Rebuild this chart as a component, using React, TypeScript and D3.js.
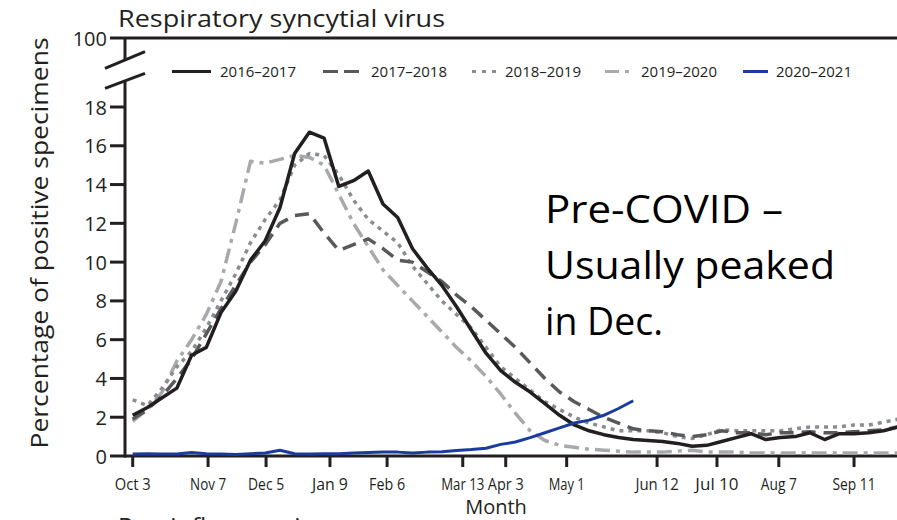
import React from "react";
import * as d3 from "d3";

// ---- data (weekly, week 0 = Oct 3) ----
const seasonNames = ["2016–2017", "2017–2018", "2018–2019", "2019–2020", "2020–2021"];

const s2016_2017 = [
  2.1, 2.5, 3.0, 3.5, 5.2, 5.6, 7.4, 8.5, 10.1, 11.1, 12.8, 15.6, 16.7, 16.4, 13.9, 14.2, 14.7, 13.0,
  12.3, 10.7, 9.7, 8.8, 7.7, 6.5, 5.3, 4.4, 3.8, 3.3, 2.7, 2.1, 1.6, 1.3, 1.1, 0.95, 0.85, 0.8, 0.75,
  0.65, 0.5, 0.55, 0.75, 0.95, 1.15, 0.85, 0.95, 1.0, 1.2, 0.85, 1.15, 1.15, 1.2, 1.3, 1.5,
];
const s2017_2018 = [
  1.9, 2.4, 3.1, 4.0, 5.0, 6.3, 7.6, 8.8, 10.0, 10.9, 12.0, 12.4, 12.5, 11.5, 10.6, 10.9, 11.2, 10.7,
  10.1, 10.0, 9.5, 9.0, 8.3, 7.7, 7.0, 6.3, 5.6, 4.8, 4.0, 3.3, 2.8, 2.4, 2.0, 1.7, 1.4, 1.3, 1.25,
  1.1, 1.0, 1.1, 1.3, 1.2, 1.2, 1.1, 1.2, 1.2, 1.25, 1.2, 1.2, 1.25, 1.3, 1.35, 1.5,
];
const s2018_2019 = [
  2.9, 2.6, 3.5, 4.6, 5.4, 6.6, 8.0, 9.4, 11.0, 12.2, 13.2, 15.0, 15.6, 15.5, 14.5, 13.2, 12.2, 11.6,
  11.0, 9.8, 8.9, 8.0, 7.3, 6.6, 5.6, 4.6, 4.0, 3.4, 2.8, 2.4, 2.0, 1.7, 1.5, 1.3, 1.3, 1.3, 1.2,
  1.0, 0.9, 1.1, 1.35, 1.3, 1.3, 1.3, 1.3, 1.4, 1.5, 1.5, 1.5, 1.6, 1.6, 1.75, 1.9,
];
const s2019_2020 = [
  1.8, 2.4, 3.3, 4.9, 6.0, 7.3, 9.0, 12.0, 15.2, 15.1, 15.3, 15.5, 15.4, 15.0, 13.5, 12.0, 10.8, 9.6,
  8.8, 8.0, 7.2, 6.4, 5.6, 4.9, 4.1, 3.2, 2.2, 1.3, 0.8, 0.55, 0.45, 0.35, 0.3, 0.25, 0.2, 0.2, 0.2,
  0.25, 0.3, 0.2, 0.2, 0.2, 0.15, 0.15, 0.15, 0.15, 0.15, 0.15, 0.15, 0.15, 0.15, 0.15, 0.15,
];
const s2020_2021 = [
  0.1, 0.12, 0.1, 0.1, 0.18, 0.12, 0.1, 0.08, 0.12, 0.15, 0.3, 0.12, 0.1, 0.12, 0.12, 0.15, 0.18, 0.2,
  0.2, 0.15, 0.2, 0.22, 0.28, 0.33, 0.4, 0.6, 0.72, 0.95, 1.2, 1.45, 1.7, 1.85, 2.1, 2.45, 2.85,
];

const xTickLabels = ["Oct 3", "Nov 7", "Dec 5", "Jan 9", "Feb 6", "Mar 13", "Apr 3", "May 1", "Jun 12", "Jul 10", "Aug 7", "Sep 11"];
const xTickWeeks = [0, 5.12, 9.06, 13.4, 17.28, 22.42, 25.34, 29.48, 35.62, 39.69, 43.89, 49.0];
const yTickValues = [0, 2, 4, 6, 8, 10, 12, 14, 16, 18];

const titleText = "Respiratory syncytial virus";
const yAxisTitle = "Percentage of positive specimens";
const xAxisTitle = "Month";
const noteLines = ["Pre-COVID –", "Usually peaked", "in Dec."];
const nextPanelTitle = "Parainfluenza viruses";

// ---- styles ----
const seriesStyles = [
  { color: "#231f20", dash: "none", legendDash: "none" },
  { color: "#58595b", dash: "14 8", legendDash: "15 6" },
  { color: "#8a8c8f", dash: "4 5", legendDash: "4 6" },
  { color: "#a7a9ac", dash: "15 6 4 6", legendDash: "14 6 4 6" },
  { color: "#1a3c9e", dash: "none", legendDash: "none" },
];
const allSeries = [s2016_2017, s2017_2018, s2018_2019, s2019_2020, s2020_2021];

const FONT = "'Open Sans', 'Noto Sans', sans-serif";

export default function App() {
  const W = 897;
  const H = 520;
  const x = d3.scaleLinear().domain([0, 52]).range([132.7, 898.2]);
  const y = d3.scaleLinear().domain([0, 18]).range([456, 107]);
  const line = d3
    .line<number>()
    .x((_, i) => x(i))
    .y((d) => y(d))
    .curve(d3.curveLinear);

  const axisX = 125;
  const topY = 38;

  const legendItems = [
    { x0: 172, x1: 211, tx: 220 },
    { x0: 323, x1: 362, tx: 371 },
    { x0: 472, x1: 496, tx: 505 },
    { x0: 605, x1: 632, tx: 641 },
    { x0: 743, x1: 768, tx: 776 },
  ];
  const legendY = 71.5;

  const drawOrder = [3, 2, 1, 0, 4];

  return (
    <svg
      width={W}
      height={H}
      style={{ position: "absolute", left: 0, top: 0, background: "#fff" }}
      fontFamily={FONT}
    >
      <rect x={0} y={0} width={W} height={H} fill="#fff" />
      {/* Title */}
      <text x={118} y={27} fontSize={24} fill="#231f20" textLength={327} lengthAdjust="spacingAndGlyphs">
        {titleText}
      </text>
      {/* Top 100 line */}
      <line x1={110} x2={W} y1={topY} y2={topY} stroke="#231f20" strokeWidth={3} />
      <text x={107} y={topY} fontSize={20} textAnchor="end" dominantBaseline="central" fill="#231f20">
        100
      </text>
      {/* Y axis with break */}
      <line x1={axisX} x2={axisX} y1={topY} y2={60} stroke="#231f20" strokeWidth={3} />
      <line x1={axisX} x2={axisX} y1={81} y2={457.5} stroke="#231f20" strokeWidth={3} />
      <line x1={105} y1={68.3} x2={145} y2={51.7} stroke="#231f20" strokeWidth={3} />
      <line x1={105} y1={88.3} x2={145} y2={73.3} stroke="#231f20" strokeWidth={3} />
      {/* Y ticks */}
      {yTickValues.map((v) => (
        <g key={v}>
          <line x1={110} x2={axisX} y1={y(v)} y2={y(v)} stroke="#231f20" strokeWidth={3} />
          <text x={107} y={y(v)} fontSize={20} textAnchor="end" dominantBaseline="central" fill="#231f20">
            {v}
          </text>
        </g>
      ))}
      {/* Y axis title */}
      <text
        transform={`translate(48, 243) rotate(-90)`}
        fontSize={24}
        textAnchor="middle"
        fill="#231f20"
        textLength={411}
        lengthAdjust="spacingAndGlyphs"
      >
        {yAxisTitle}
      </text>
      {/* X axis */}
      <line x1={axisX} x2={W} y1={456} y2={456} stroke="#231f20" strokeWidth={3} />
      {xTickLabels.map((lab, i) => (
        <g key={lab}>
          <line x1={x(xTickWeeks[i])} x2={x(xTickWeeks[i])} y1={456} y2={467} stroke="#231f20" strokeWidth={3} />
          <text
            x={x(xTickWeeks[i])}
            y={490}
            fontSize={16.5}
            textAnchor="middle"
            fill="#231f20"
            textLength={lab.length * 7.2}
            lengthAdjust="spacingAndGlyphs"
          >
            {lab}
          </text>
        </g>
      ))}
      <text x={496} y={514} fontSize={20} textAnchor="middle" fill="#231f20">
        {xAxisTitle}
      </text>
      {/* Data lines */}
      {drawOrder.map((si) => (
        <path
          key={seasonNames[si]}
          d={line(allSeries[si]) || ""}
          fill="none"
          stroke={seriesStyles[si].color}
          strokeWidth={si === 4 ? 3 : 3.5}
          strokeDasharray={seriesStyles[si].dash}
          strokeLinejoin="round"
        />
      ))}
      {/* Legend */}
      {seasonNames.map((name, i) => (
        <g key={name}>
          <line
            x1={legendItems[i].x0}
            x2={legendItems[i].x1}
            y1={legendY}
            y2={legendY}
            stroke={seriesStyles[i].color}
            strokeWidth={3}
            strokeDasharray={seriesStyles[i].legendDash}
          />
          <text
            x={legendItems[i].tx}
            y={legendY}
            fontSize={14.5}
            dominantBaseline="central"
            fill="#231f20"
            textLength={76}
            lengthAdjust="spacingAndGlyphs"
          >
            {name}
          </text>
        </g>
      ))}
      {/* Annotation */}
      {noteLines.map((t, i) => (
        <text
          key={t}
          x={545}
          y={[223, 279, 335][i]}
          fontSize={38}
          fill="#000"
          textLength={[238, 290, 118][i]}
          lengthAdjust="spacingAndGlyphs"
        >
          {t}
        </text>
      ))}
      {/* Next panel title (cut off at the bottom edge, as in the reference) */}
      <text x={118} y={535} fontSize={24} fill="#231f20" textLength={245} lengthAdjust="spacingAndGlyphs">
        {nextPanelTitle}
      </text>
    </svg>
  );
}
